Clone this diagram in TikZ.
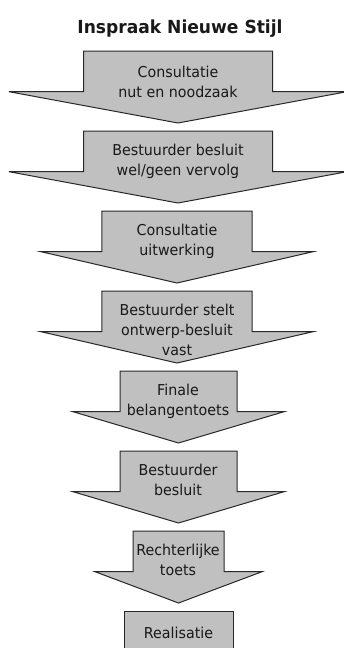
\documentclass[tikz,border=0pt]{standalone}
\usepackage{fontspec}
\setmainfont{DejaVu Sans}[FakeStretch=0.95]
\newfontfamily\titlefont{DejaVu Sans}[FakeStretch=0.95]
\tikzset{
  arrowshape/.style={fill={rgb,255:red,192;green,192;blue,192}, draw={rgb,255:red,40;green,40;blue,40}, line width=1pt},
  steptext/.style={align=center, anchor=base, inner sep=0pt, font=\fontsize{15}{20}\selectfont, text={rgb,255:red,25;green,25;blue,25}},
  titletext/.style={anchor=base, inner sep=0pt, font=\titlefont\bfseries\fontsize{18}{22}\selectfont, text={rgb,255:red,25;green,25;blue,25}}
}
% #1 centre x, #2 top y, #3 shaft half width, #4 wing half width
\newcommand{\insparrow}[4]{%
  \filldraw[arrowshape] ({#1-#3},#2) -- ({#1+#3},#2) -- ({#1+#3},{#2+40.7}) -- ({#1+#4},{#2+40.7})
    -- (#1,{#2+72}) -- ({#1-#4},{#2+40.7}) -- ({#1-#3},{#2+40.7}) -- cycle;}
\begin{document}
\begin{tikzpicture}[x=1pt,y=-1pt]
\clip (0,0) rectangle (344,648);
\node[titletext] (title) at (180,33) {Inspraak Nieuwe Stijl};
\insparrow{178}{51}{94.5}{169}
\insparrow{178}{131}{94.5}{169}
\insparrow{177}{211}{75.2}{136}
\insparrow{177}{291}{75.2}{136}
\insparrow{178.5}{371}{58.5}{105.5}
\insparrow{178.5}{451}{58.5}{105.5}
\insparrow{178.5}{531}{45.5}{83.5}
\filldraw[arrowshape] (124,611) rectangle (233,665);
% nodes anchored at the baseline of their last line
\node[steptext] (s1) at (178,97) {Consultatie\\nut en noodzaak};
\node[steptext] (s2) at (178,175) {Bestuurder besluit\\wel/geen vervolg};
\node[steptext] (s3) at (177,255.5) {Consultatie\\uitwerking};
\node[steptext] (s4) at (177,355.5) {Bestuurder stelt\\ontwerp-besluit\\vast};
\node[steptext] (s5) at (178,415.5) {Finale\\belangentoets};
\node[steptext] (s6) at (178,495) {Bestuurder\\besluit};
\node[steptext] (s7) at (178,575.5) {Rechterlijke\\toets};
\node[steptext] (s8) at (178.5,638) {Realisatie};
\end{tikzpicture}
\end{document}
